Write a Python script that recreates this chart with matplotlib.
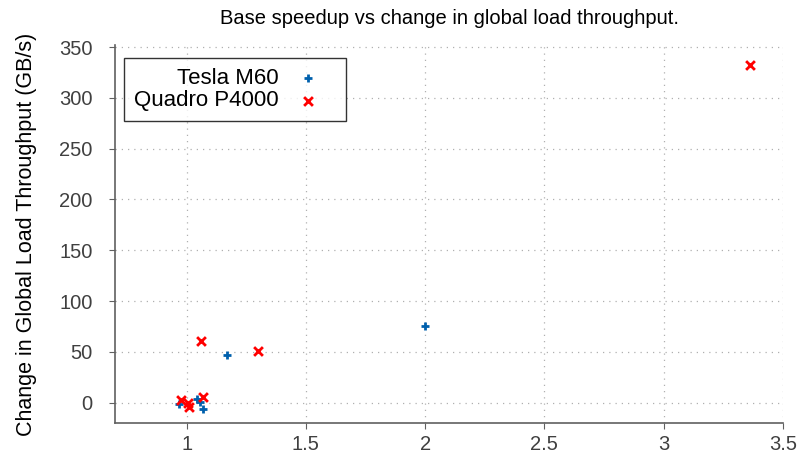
import matplotlib
matplotlib.use("Agg")
import matplotlib.pyplot as plt

plt.rcParams['font.family'] = ['Liberation Sans', 'DejaVu Sans']

# speedup (x) vs change in global load throughput (y, GB/s)
m60_speedup = [0.968, 1.045, 1.056, 1.07, 1.168, 2.0]
m60_throughput = [-1.3, 4.0, 0.7, -6.0, 47.0, 75.0]

p4000_speedup = [0.978, 1.005, 1.01, 1.07, 1.06, 1.30, 3.36]
p4000_throughput = [3.0, -0.3, -4.6, 5.2, 61.0, 51.0, 332.0]

xticks = [1, 1.5, 2, 2.5, 3, 3.5]
yticks = [0, 50, 100, 150, 200, 250, 300, 350]

fig = plt.figure(figsize=(8.02, 4.59), dpi=100)
ax = fig.add_axes([115 / 802, 1 - 423 / 459, (783 - 115) / 802, (423 - 45) / 459])

ax.scatter(m60_speedup, m60_throughput, marker='+', s=40, linewidths=2,
           color='#0060ad', label='Tesla M60', zorder=3)
ax.scatter(p4000_speedup, p4000_throughput, marker='x', s=40, linewidths=2,
           color='#ff0000', label='Quadro P4000', zorder=3)

ax.set_xlim(0.7, 3.5)
ax.set_ylim(-20, 352)
ax.set_xticks(xticks)
ax.set_xticklabels(['1', '1.5', '2', '2.5', '3', '3.5'])
ax.set_yticks(yticks)

for side in ['top', 'right']:
    ax.spines[side].set_visible(False)
for side in ['left', 'bottom']:
    ax.spines[side].set_color('#606060')
    ax.spines[side].set_linewidth(1.2)

ax.tick_params(axis='both', direction='out', length=4, color='#606060',
               labelsize=14.5, labelcolor='#404040')
ax.tick_params(axis='x', pad=5)
ax.tick_params(axis='y', pad=12)
ax.grid(True, linestyle=(0, (1, 4)), color='#b0b0b0', linewidth=0.9)
ax.set_axisbelow(True)

ax.set_ylabel('Change in Global Load Throughput (GB/s)', fontsize=15.5, labelpad=16)
ax.set_title('Base speedup vs change in global load throughput.', fontsize=14.5, pad=15)

leg = ax.legend(loc='upper left', bbox_to_anchor=(0.013, 0.965), markerfirst=False,
                fontsize=16, frameon=True, fancybox=False, edgecolor='black',
                handletextpad=0.1, labelspacing=0.05, borderpad=0.45,
                borderaxespad=0, handlelength=2.5)
leg.get_frame().set_linewidth(1.0)
# right-align the rows like gnuplot's key
for col in leg._legend_handle_box.get_children():
    col.align = 'right'

fig.savefig('out.png', dpi=100)
